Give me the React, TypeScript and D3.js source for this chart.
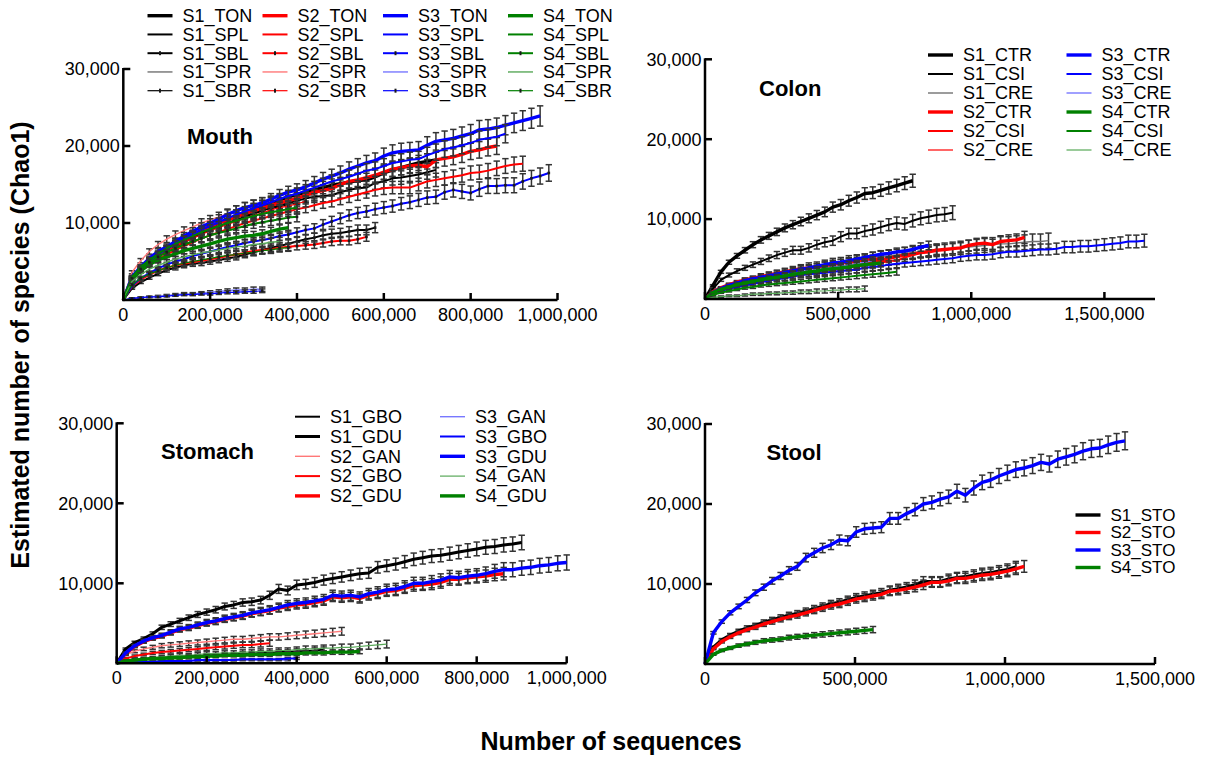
import React from 'react'
import * as d3 from 'd3'

// estimated species (Chao1), in thousands, one value per rarefaction depth step
// Mouth: step 20,000 sequences
const m1TON = [0, 2.8, 4.0, 5.0, 5.8, 6.5, 7.2, 7.8, 8.4, 9.0, 9.5, 10.0, 10.5, 10.9, 11.4, 11.8, 12.2, 12.6, 13.0, 13.4, 13.7, 14.0, 14.3, 14.6, 14.9, 15.1, 15.3, 15.5, 15.6, 16.0, 16.5, 16.9, 17.2, 17.5, 17.8, 18.0, 18.2]
const m1SPL = [0, 2.7, 3.9, 4.8, 5.6, 6.3, 6.9, 7.5, 8.1, 8.6, 9.1, 9.6, 10.0, 10.4, 10.8, 11.2, 11.6, 12.0, 12.3, 12.6, 12.9, 13.2, 13.4, 13.5, 13.6, 14.0, 14.3, 14.5, 14.6, 15.2, 15.4, 15.8, 15.9, 16.1, 16.3, 16.6, 16.9]
const m1SBL = [0, 1.5, 2.3, 2.9, 3.4, 3.9, 4.2, 4.5, 4.7, 4.8, 5.0, 5.2, 5.4, 5.6, 5.9, 6.2, 6.5, 6.8, 7.0, 7.3, 7.6, 7.9, 8.1, 8.4, 8.6, 8.7, 8.9, 9.1, 9.1, 9.4]
const m1SPR = [0, 2.9, 4.1, 5.1, 5.9, 6.7, 7.3, 7.9, 8.5, 9.0, 9.5, 10.0, 10.4, 10.8, 11.2, 11.5, 11.9, 12.2, 12.5, 12.8, 13.1, 13.4, 13.6]
const m1SBR = [0, 2.9, 4.2, 5.2, 6.0, 6.7, 7.4, 8.0, 8.6, 9.1, 9.6, 10.0, 10.3, 10.7, 11.0, 11.3, 11.6, 11.9, 12.1, 12.4, 12.6]
const m2TON = [0, 2.9, 4.1, 5.1, 5.9, 6.6, 7.2, 7.8, 8.4, 9.0, 9.6, 10.0, 10.4, 10.8, 11.2, 11.6, 11.9, 12.3, 12.6, 12.9, 13.2, 13.6, 14.0, 14.2, 14.5, 15.0, 15.4, 15.6, 15.9, 16.2, 16.6, 17.0, 17.2, 17.4, 17.5, 17.3, 18.2, 18.4, 18.6, 18.9, 19.3, 19.5, 19.8, 20.0]
const m2SPL = [0, 2.6, 3.7, 4.6, 5.3, 5.9, 6.5, 7.0, 7.5, 8.0, 8.4, 8.8, 9.2, 9.6, 10.0, 10.3, 10.6, 10.9, 11.2, 11.5, 11.8, 12.0, 12.3, 12.6, 12.8, 13.1, 13.4, 13.7, 14.0, 14.3, 14.5, 14.6, 14.6, 14.6, 15.0, 15.4, 15.6, 15.8, 16.0, 16.2, 16.5, 16.6, 16.8, 17.1, 17.4, 17.6, 17.7]
const m2SBL = [0, 1.8, 2.6, 3.3, 3.8, 4.2, 4.5, 4.7, 4.9, 5.1, 5.3, 5.5, 5.7, 5.9, 6.1, 6.4, 6.5, 6.6, 6.8, 6.9, 7.0, 7.1, 7.2, 7.4, 7.6, 7.7, 7.7, 7.9, 8.2]
const m2SPR = [0, 3.6, 5.1, 6.3, 7.2, 7.9, 8.5, 9.0, 9.5, 10.0, 10.4, 10.8, 11.2, 11.6, 12.0, 12.3, 12.6, 12.8]
const m2SBR = [0, 2.6, 3.8, 4.8, 5.6, 6.3, 6.9, 7.5, 8.0, 8.5, 9.0, 9.4, 9.8, 10.2, 10.6, 11.0, 11.3, 11.7, 12.0, 12.2, 12.5, 12.8]
const m3TON = [0, 3.0, 4.3, 5.4, 6.3, 6.9, 7.6, 8.3, 8.9, 9.5, 10.0, 10.5, 11.1, 11.6, 12.0, 12.3, 12.6, 13.1, 13.6, 14.0, 14.3, 14.7, 15.2, 15.7, 16.1, 16.5, 17.0, 17.4, 17.8, 18.1, 18.7, 19.1, 19.3, 19.4, 19.5, 20.1, 20.6, 20.8, 21.0, 21.3, 21.6, 22.1, 22.2, 22.4, 22.7, 23.0, 23.3, 23.6, 23.9]
const m3SPL = [0, 2.8, 4.1, 5.1, 5.9, 6.6, 7.3, 7.9, 8.5, 9.1, 9.6, 10.1, 10.6, 11.1, 11.5, 11.9, 12.3, 12.7, 13.1, 13.5, 13.8, 14.2, 14.6, 15.0, 15.4, 15.7, 16.0, 16.4, 16.8, 17.0, 17.4, 17.8, 18.0, 18.2, 18.3, 18.8, 19.2, 19.6, 19.8, 20.1, 20.4, 20.8, 21.0, 21.2, 21.6]
const m3SBL = [0, 1.9, 2.8, 3.5, 4.1, 4.6, 5.0, 5.3, 5.7, 6.0, 6.3, 6.6, 6.9, 7.1, 7.4, 7.6, 7.8, 8.0, 8.3, 8.5, 8.8, 9.1, 9.3, 9.8, 10.2, 10.6, 11.0, 11.3, 11.5, 11.8, 12.0, 12.2, 12.5, 12.7, 13.0, 13.3, 13.4, 14.0, 14.3, 14.1, 13.9, 14.4, 14.8, 14.8, 14.9, 14.9, 15.4, 15.8, 16.1, 16.5]
const m3SPR = [0, 0.2, 0.3, 0.4, 0.5, 0.6, 0.7, 0.8, 0.8, 0.9, 1.0, 1.1, 1.2, 1.3, 1.3, 1.4, 1.4]
const m3SBR = [0, 0.2, 0.3, 0.4, 0.4, 0.5, 0.6, 0.7, 0.7, 0.8, 0.8, 0.9, 1.0, 1.0, 1.1, 1.1, 1.2]
const m4TON = [0, 2.7, 3.8, 4.6, 5.2, 5.6, 6.0, 6.4, 6.7, 7.0, 7.3, 7.6, 7.9, 8.1, 8.3, 8.4, 8.6, 8.9, 9.2, 9.4]
const m4SPL = [0, 3.0, 4.3, 5.2, 6.0, 6.7, 7.3, 7.8, 8.3, 8.8, 9.2, 9.6, 10.0, 10.3, 10.6, 10.9, 11.2, 11.4, 11.6, 11.8, 12.0]
const m4SBL = [0, 2.8, 4.0, 4.9, 5.6, 6.2, 6.7, 7.2, 7.6, 8.0, 8.4, 8.7, 9.0, 9.3, 9.6, 9.9, 10.1, 10.3, 10.5, 10.7, 10.8]
const m4SPR = [0, 2.4, 3.3, 4.0, 4.5, 4.9, 5.3, 5.6, 5.9, 6.1, 6.3, 6.5, 6.7, 6.9, 7.0, 7.2, 7.3, 7.5, 7.6]
const m4SBR = [0, 2.0, 2.8, 3.4, 3.8, 4.2, 4.5, 4.8, 5.0, 5.2, 5.4, 5.6, 5.8, 5.9, 6.1, 6.2, 6.4, 6.5, 6.7, 6.8]

// Colon: step 30,000
const c1CTR = [0, 1.7, 3.4, 4.6, 5.4, 6.1, 6.8, 7.4, 7.9, 8.4, 8.9, 9.3, 9.7, 10.1, 10.5, 10.9, 11.5, 11.8, 12.3, 12.7, 13.2, 13.3, 13.6, 13.9, 14.2, 14.5, 14.8]
const c1CSI = [0, 1.3, 2.4, 3.0, 3.5, 3.9, 4.3, 4.7, 5.1, 5.5, 5.8, 6.1, 6.1, 6.4, 6.8, 7.1, 7.3, 7.8, 8.2, 8.2, 8.5, 8.7, 9.0, 9.3, 9.5, 9.4, 9.8, 10.1, 10.3, 10.5, 10.6, 10.8]
const c1CRE = [0, 0.8, 1.3, 1.7, 2.0, 2.3, 2.5, 2.8, 3.0, 3.2, 3.4, 3.6, 3.8, 4.0, 4.1, 4.3, 4.5, 4.6, 4.8, 4.9, 5.0, 5.2, 5.3, 5.4, 5.5, 5.7, 5.8, 5.9, 6.0, 6.1, 6.2, 6.3, 6.4, 6.5, 6.6, 6.7, 6.8, 6.9, 6.9, 7.0, 7.1, 7.2, 7.2, 7.3]
const c2CTR = [0, 0.9, 1.4, 1.8, 2.1, 2.4, 2.6, 2.8, 3.0, 3.2, 3.4, 3.6, 3.8, 3.9, 4.0, 4.2, 4.3, 4.5, 4.6, 4.7, 4.9, 5.0, 4.9, 5.1, 5.3, 5.5, 5.6, 5.8, 5.9, 6.1, 6.2, 6.3, 6.4, 6.7, 6.9, 7.0, 6.8, 7.2, 7.3, 7.4, 7.7]
const c2CSI = [0, 0.7, 1.1, 1.4, 1.7, 1.9, 2.1, 2.3, 2.5, 2.7, 2.9, 3.1, 3.2, 3.4, 3.6, 3.7, 3.9, 4.0, 4.1, 4.3, 4.4, 4.6, 4.7, 4.8, 4.8, 5.2, 5.5, 5.8, 6.0, 6.2]
const c2CRE = [0, 0.6, 1.0, 1.3, 1.5, 1.7, 1.9, 2.1, 2.3, 2.5, 2.6, 2.8, 3.0, 3.1, 3.3, 3.4, 3.6, 3.7, 3.9, 4.0, 4.2, 4.3, 4.5, 4.7]
const c3CTR = [0, 0.8, 1.3, 1.7, 2.0, 2.3, 2.5, 2.7, 2.9, 3.1, 3.3, 3.5, 3.7, 3.9, 4.1, 4.3, 4.5, 4.6, 4.8, 5.0, 5.2, 5.4, 5.6, 5.7, 5.9, 6.0, 6.2, 6.5, 6.7]
const c3CSI = [0, 0.6, 1.0, 1.3, 1.5, 1.7, 1.9, 2.1, 2.3, 2.5, 2.6, 2.8, 3.0, 3.1, 3.2, 3.3, 3.4, 3.5, 3.6, 3.7, 3.9, 4.0, 4.1, 4.3, 4.4, 4.5, 4.6, 4.7, 4.8, 4.9, 5.0, 5.1, 5.3, 5.4, 5.5, 5.5, 5.6, 5.8, 5.9, 5.9, 6.0, 6.1, 6.2, 6.2, 6.3, 6.5, 6.5, 6.6, 6.6, 6.7, 6.8, 6.9, 7.0, 7.2, 7.2, 7.3]
const c3CRE = [0, 0.7, 1.1, 1.5, 1.8, 2.0, 2.2, 2.4, 2.6, 2.8, 3.0, 3.2, 3.4, 3.5, 3.7, 3.8, 4.0, 4.1, 4.3, 4.4, 4.6, 4.8]
const c4CTR = [0, 0.8, 1.2, 1.5, 1.8, 2.0, 2.2, 2.4, 2.6, 2.7, 2.9, 3.1, 3.2, 3.4, 3.5, 3.7, 3.8, 3.9, 4.0, 4.2, 4.3, 4.4, 4.5]
const c4CSI = [0, 0.5, 0.8, 1.0, 1.2, 1.4, 1.5, 1.7, 1.8, 1.9, 2.0, 2.1, 2.2, 2.3, 2.4, 2.5, 2.6, 2.7, 2.8, 2.9, 3.0, 3.1, 3.2, 3.3, 3.4]
const c4CRE = [0, 0.2, 0.3, 0.4, 0.4, 0.5, 0.6, 0.6, 0.7, 0.7, 0.8, 0.8, 0.9, 0.9, 1.0, 1.0, 1.1, 1.1, 1.2, 1.2, 1.3]

// Stomach: step 20,000
const s1GBO = [0, 0.3, 0.4, 0.5, 0.6, 0.7, 0.7, 0.8, 0.9, 0.9, 1.0, 1.0, 1.1, 1.1, 1.2, 1.2, 1.3, 1.3, 1.4, 1.4, 1.5, 1.5, 1.6, 1.7]
const s1GDU = [0, 1.8, 2.6, 3.1, 3.7, 4.5, 4.9, 5.3, 5.7, 6.1, 6.4, 6.7, 7.1, 7.3, 7.6, 7.7, 7.9, 8.5, 9.3, 9.1, 9.8, 9.9, 10.1, 10.4, 10.6, 10.8, 11.0, 11.2, 11.3, 12.0, 12.2, 12.4, 12.7, 13.0, 13.2, 13.4, 13.5, 13.7, 13.9, 14.1, 14.3, 14.5, 14.6, 14.8, 14.9, 15.1]
const s2GAN = [0, 1.1, 1.5, 1.8, 2.0, 2.2, 2.3, 2.4, 2.5, 2.6, 2.7, 2.8, 2.9, 3.0, 3.0, 3.1, 3.2, 3.3, 3.3, 3.4, 3.5, 3.6, 3.7, 3.8, 3.9, 4.0]
const s2GBO = [0, 0.6, 0.9, 1.1, 1.3, 1.4, 1.5, 1.6, 1.7, 1.8, 1.9, 2.0, 2.1, 2.2, 2.3, 2.3, 2.4, 2.5]
const s2GDU = [0, 1.2, 2.1, 2.7, 3.1, 3.4, 3.8, 4.2, 4.4, 4.7, 5.0, 5.2, 5.5, 5.7, 5.9, 6.2, 6.4, 6.6, 6.9, 7.1, 7.3, 7.4, 7.6, 7.8, 8.3, 8.2, 8.3, 8.1, 8.5, 8.7, 9.0, 9.1, 9.4, 9.7, 9.8, 9.9, 10.1, 10.5, 10.5, 10.7, 10.8, 10.9, 11.1, 11.2]
const s3GAN = [0, 0.1, 0.1, 0.2, 0.2, 0.2, 0.2, 0.3, 0.3, 0.3, 0.3, 0.3, 0.3, 0.4, 0.4, 0.4, 0.4, 0.4, 0.4, 0.4]
const s3GBO = [0, 0.1, 0.2, 0.2, 0.2, 0.3, 0.3, 0.3, 0.3, 0.4, 0.4, 0.4, 0.4, 0.4, 0.5, 0.5, 0.5, 0.5, 0.5, 0.6, 0.6]
const s3GDU = [0, 1.3, 2.2, 2.8, 3.2, 3.5, 3.9, 4.3, 4.5, 4.8, 5.1, 5.3, 5.6, 5.8, 6.0, 6.3, 6.5, 6.7, 7.0, 7.3, 7.5, 7.6, 7.8, 8.0, 8.5, 8.4, 8.5, 8.3, 8.7, 8.9, 9.2, 9.3, 9.6, 10.0, 10.0, 10.2, 10.4, 10.8, 10.7, 10.9, 11.0, 11.2, 11.5, 11.7, 11.7, 11.9, 12.0, 12.2, 12.3, 12.5, 12.6]
const s4GAN = [0, 0.3, 0.5, 0.6, 0.7, 0.8, 0.9, 1.0, 1.0, 1.1, 1.2, 1.2, 1.3, 1.3, 1.4, 1.4, 1.5, 1.5, 1.6, 1.6, 1.7, 1.8, 1.8, 1.9, 1.9, 2.0, 2.0, 2.1, 2.2, 2.3, 2.4]
const s4GDU = [0, 0.3, 0.4, 0.5, 0.6, 0.6, 0.7, 0.7, 0.8, 0.8, 0.9, 0.9, 1.0, 1.0, 1.0, 1.1, 1.1, 1.1, 1.2, 1.2, 1.2, 1.3, 1.3, 1.3, 1.4, 1.4, 1.4, 1.5]

// Stool: step 28,000
const t1STO = [0, 2.1, 3.0, 3.6, 4.1, 4.5, 4.8, 5.2, 5.5, 5.8, 6.1, 6.3, 6.6, 6.9, 7.2, 7.5, 7.7, 8.0, 8.3, 8.5, 8.7, 8.9, 9.2, 9.4, 9.6, 9.9, 10.3, 10.3, 10.3, 10.6, 10.8, 10.9, 11.1, 11.3, 11.4, 11.6, 11.8, 12.1]
const t2STO = [0, 1.9, 2.8, 3.4, 3.9, 4.3, 4.6, 5.0, 5.3, 5.6, 5.9, 6.1, 6.4, 6.7, 7.0, 7.3, 7.5, 7.8, 8.1, 8.3, 8.5, 8.7, 9.1, 9.2, 9.4, 9.6, 9.9, 10.2, 10.2, 10.4, 10.7, 10.7, 10.9, 11.1, 11.2, 11.4, 11.6, 11.9, 12.2]
const t3STO = [0, 3.9, 5.3, 6.4, 7.2, 8.0, 8.9, 9.6, 10.4, 11.0, 11.7, 12.2, 13.3, 13.9, 14.5, 14.9, 15.5, 15.4, 16.5, 16.9, 17.0, 17.1, 18.2, 18.2, 18.8, 19.3, 20.0, 20.2, 20.6, 20.9, 21.6, 21.1, 22.0, 22.7, 23.0, 23.5, 23.9, 24.3, 24.5, 24.8, 25.2, 25.0, 25.6, 25.9, 26.2, 26.6, 26.9, 27.0, 27.4, 27.7, 27.9]
const t4STO = [0, 1.2, 1.7, 2.0, 2.3, 2.5, 2.7, 2.9, 3.0, 3.1, 3.3, 3.4, 3.5, 3.6, 3.7, 3.8, 3.9, 4.0, 4.1, 4.2, 4.3]

const yTicks = [10, 20, 30]
const xTicksA = [0, 200000, 400000, 600000, 800000, 1000000]
const xTicksB = [0, 500000, 1000000, 1500000]

const FONT = "'Liberation Sans', Arial, Helvetica, sans-serif"
const K = '#000000', R = '#ff0000', B = '#0000ff', G = '#008000'
const LK = '#727272', LR = '#ff7878', LB = '#7878ff', LG = '#58a858'

type S = { name: string; vals: number[]; color: string; w: number; err: number; dots?: boolean }
const mk = (name: string, vals: number[], color: string, w: number, err: number, dots = false): S =>
  ({ name, vals, color, w, err, dots })

const mouth: S[] = [
  mk('S1_TON', m1TON, K, 3.4, 0.055), mk('S1_SPL', m1SPL, K, 2, 0.055), mk('S1_SBL', m1SBL, K, 2, 0.07, true),
  mk('S1_SPR', m1SPR, LK, 1.4, 0.055), mk('S1_SBR', m1SBR, K, 1.2, 0.055, true),
  mk('S2_TON', m2TON, R, 3.4, 0.055), mk('S2_SPL', m2SPL, R, 2, 0.055), mk('S2_SBL', m2SBL, R, 2, 0.07, true),
  mk('S2_SPR', m2SPR, LR, 1.4, 0.055), mk('S2_SBR', m2SBR, R, 1.2, 0.055, true),
  mk('S3_TON', m3TON, B, 3.4, 0.055), mk('S3_SPL', m3SPL, B, 2, 0.055), mk('S3_SBL', m3SBL, B, 2, 0.065, true),
  mk('S3_SPR', m3SPR, LB, 1.4, 0.2), mk('S3_SBR', m3SBR, B, 1.2, 0.2, true),
  mk('S4_TON', m4TON, G, 3.4, 0.06), mk('S4_SPL', m4SPL, G, 2, 0.06), mk('S4_SBL', m4SBL, G, 2, 0.06, true),
  mk('S4_SPR', m4SPR, LG, 1.4, 0.07), mk('S4_SBR', m4SBR, G, 1.2, 0.07, true),
]
const colon: S[] = [
  mk('S1_CTR', c1CTR, K, 3.4, 0.055), mk('S1_CSI', c1CSI, K, 2, 0.08), mk('S1_CRE', c1CRE, LK, 1.4, 0.13),
  mk('S2_CTR', c2CTR, R, 3.4, 0.1), mk('S2_CSI', c2CSI, R, 2, 0.1), mk('S2_CRE', c2CRE, R, 1.2, 0.1),
  mk('S3_CTR', c3CTR, B, 3.4, 0.08), mk('S3_CSI', c3CSI, B, 2, 0.11), mk('S3_CRE', c3CRE, LB, 1.4, 0.1),
  mk('S4_CTR', c4CTR, G, 3.4, 0.1), mk('S4_CSI', c4CSI, G, 2, 0.12), mk('S4_CRE', c4CRE, LG, 1.2, 0.25),
]
const stomach: S[] = [
  mk('S1_GBO', s1GBO, K, 2, 0.2), mk('S1_GDU', s1GDU, K, 3, 0.06),
  mk('S2_GAN', s2GAN, LR, 1.4, 0.12), mk('S2_GBO', s2GBO, R, 2, 0.15), mk('S2_GDU', s2GDU, R, 3.4, 0.07),
  mk('S3_GAN', s3GAN, LB, 1.4, 0.2), mk('S3_GBO', s3GBO, B, 2, 0.2), mk('S3_GDU', s3GDU, B, 3.4, 0.075),
  mk('S4_GAN', s4GAN, LG, 1.2, 0.2), mk('S4_GDU', s4GDU, G, 3.4, 0.2),
]
const stool: S[] = [
  mk('S1_STO', t1STO, K, 3.4, 0.06), mk('S2_STO', t2STO, R, 3.4, 0.06),
  mk('S3_STO', t3STO, B, 3.4, 0.04), mk('S4_STO', t4STO, G, 3.4, 0.09),
]

type P = {
  title: string; tx: number; ty: number; series: S[]; step: number
  xMax: number; x0: number; x1: number; y0: number; y1: number; xTicks: number[]
  legX: number[]; legY: number; legDy: number; rows: number; legFont: number
}

const panels: P[] = [
  { title: 'Mouth', tx: 187, ty: 144, series: mouth, step: 20000, xMax: 1000000, x0: 123.3, x1: 557.5, y0: 300, y1: 69,
    xTicks: xTicksA, legX: [182.5, 297.5, 418, 543], legY: 15.7, legDy: 18.75, rows: 5, legFont: 18 },
  { title: 'Colon', tx: 759, ty: 95.5, series: colon, step: 30000, xMax: 1690000, x0: 705, x1: 1155, y0: 299, y1: 59.3,
    xTicks: xTicksB, legX: [963, 1101.5], legY: 55, legDy: 19, rows: 6, legFont: 18 },
  { title: 'Stomach', tx: 161, ty: 459, series: stomach, step: 20000, xMax: 1000000, x0: 116.7, x1: 566.7, y0: 663.3, y1: 423.3,
    xTicks: xTicksA, legX: [330, 475], legY: 416.7, legDy: 19.8, rows: 5, legFont: 18 },
  { title: 'Stool', tx: 766.5, ty: 460, series: stool, step: 28000, xMax: 1500000, x0: 705, x1: 1155, y0: 664, y1: 424,
    xTicks: xTicksB, legX: [1110.5], legY: 515, legDy: 17.5, rows: 4, legFont: 17 },
]

const fmt = d3.format(',')

function Panel({ p }: { p: P }) {
  const x = d3.scaleLinear().domain([0, p.xMax]).range([p.x0, p.x1])
  const y = d3.scaleLinear().domain([0, 30]).range([p.y0, p.y1])
  const line = d3.line<number>().x((_, i) => x(i * p.step)).y(d => y(d))
  return (
    <g>
      {p.series.map(s => (
        <g key={s.name}>
          {s.vals.map((v, i) => {
            if (i === 0) return null
            const cx = x(i * p.step)
            const e = Math.max(v * s.err, 0.08)
            const ya = y(v + e), yb = y(v - e)
            return (
              <g key={i} stroke="#333" strokeWidth={1.5}>
                <line x1={cx} x2={cx} y1={ya} y2={yb} />
                <line x1={cx - 3.2} x2={cx + 3.2} y1={ya} y2={ya} />
                <line x1={cx - 3.2} x2={cx + 3.2} y1={yb} y2={yb} />
              </g>
            )
          })}
          <path d={line(s.vals) || ''} fill="none" stroke={s.color} strokeWidth={s.w} strokeLinejoin="round" />
          {s.dots && s.vals.map((v, i) => i === 0 ? null : (
            <rect key={i} x={x(i * p.step) - 1.3} y={y(v) - 1.3} width={2.6} height={2.6} fill="#1a1a1a" />
          ))}
        </g>
      ))}

      {/* axes */}
      <line x1={p.x0} x2={p.x1} y1={p.y0} y2={p.y0} stroke="#000" strokeWidth={2.5} />
      <line x1={p.x0} x2={p.x0} y1={p.y0 + 1.2} y2={p.y1 - 1} stroke="#000" strokeWidth={2.5} />
      {p.xTicks.map(t => (
        <g key={t}>
          <line x1={x(t)} x2={x(t)} y1={p.y0} y2={p.y0 - 7} stroke="#000" strokeWidth={2.5} />
          <text x={x(t)} y={p.y0 + 21} textAnchor="middle" fontSize={18}>{fmt(t)}</text>
        </g>
      ))}
      {yTicks.map(t => (
        <g key={t}>
          <line x1={p.x0} x2={p.x0 + 7} y1={y(t)} y2={y(t)} stroke="#000" strokeWidth={2.5} />
          <text x={p.x0 - 3.5} y={y(t)} dy="0.35em" textAnchor="end" fontSize={18}>{fmt(t * 1000)}</text>
        </g>
      ))}

      <text x={p.tx} y={p.ty} fontSize={22} fontWeight="bold">{p.title}</text>

      {/* legend */}
      {p.series.map((s, i) => {
        const lx = p.legX[Math.floor(i / p.rows)]
        const ly = p.legY + (i % p.rows) * p.legDy
        return (
          <g key={'l' + s.name}>
            <line x1={lx - 35} x2={lx - 10} y1={ly} y2={ly} stroke={s.color} strokeWidth={s.w} />
            {s.dots && <rect x={lx - 23.5} y={ly - 2} width={2} height={4} fill="#1a1a1a" />}
            <text x={lx} y={ly} dy="0.35em" fontSize={p.legFont}>{s.name}</text>
          </g>
        )
      })}
    </g>
  )
}

export default function App() {
  return (
    <svg width={1207} height={761} fontFamily={FONT}
      style={{ position: 'absolute', left: 0, top: 0, background: '#fff' }}>
      <rect width={1207} height={761} fill="#fff" />
      {panels.map(p => <Panel key={p.title} p={p} />)}
      <text transform="translate(29,345) rotate(-90)" textAnchor="middle" fontSize={25} fontWeight="bold">
        Estimated number of species (Chao1)
      </text>
      <text x={611} y={750} textAnchor="middle" fontSize={25} fontWeight="bold">Number of sequences</text>
    </svg>
  )
}
